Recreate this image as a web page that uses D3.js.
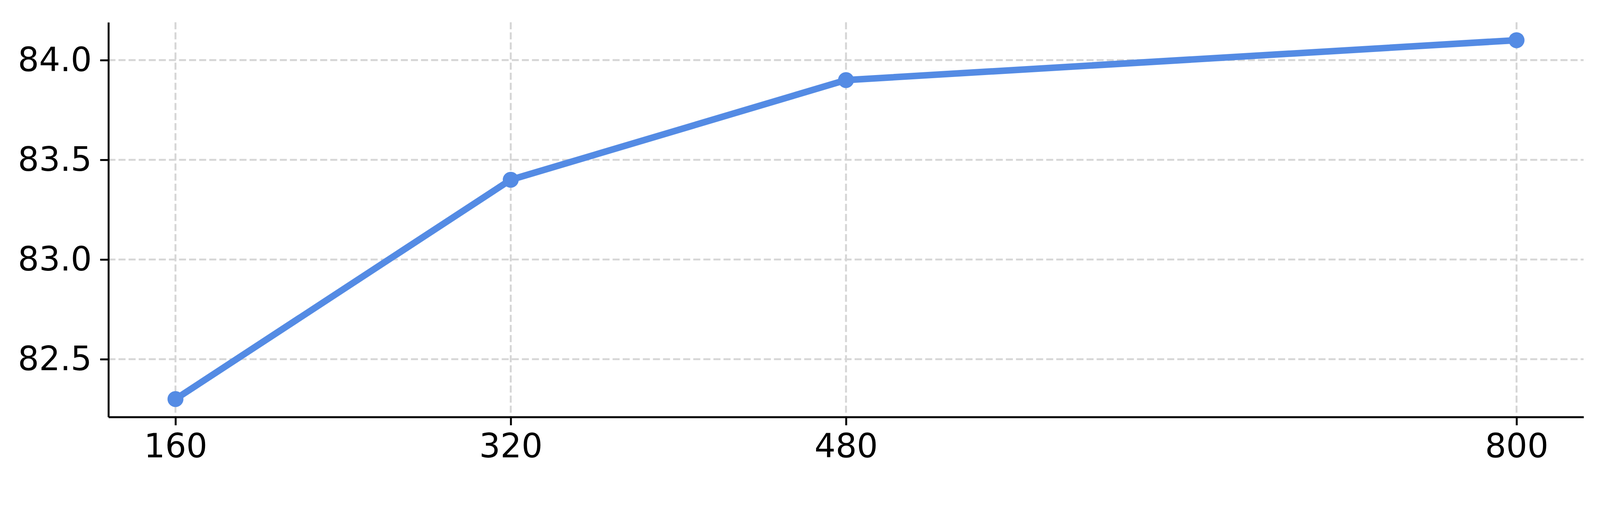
<!DOCTYPE html>
<html>
<head>
<meta charset="utf-8">
<script src="https://cdn.jsdelivr.net/npm/d3@7"></script>
<style>
  html, body { margin: 0; padding: 0; background: #fff; overflow: hidden; }
  .chart svg { display: block; }
  .axis text { font-family: "DejaVu Sans", sans-serif; fill: #000; }
</style>
</head>
<body>
<div class="chart"></div>
<script>
// values
const xValues = [160, 320, 480, 800];
const yValues = [82.3, 83.4, 83.9, 84.1];
const xTicks = [160, 320, 480, 800];
const yTicks = [82.5, 83.0, 83.5, 84.0];

// the reference is 5617x1297; fit its layout to the real window
const refW = 5617, refH = 1297;
const width = window.innerWidth || refW;
const height = window.innerHeight || refH;
const sx = width / refW;
const sy = height / refH;
const k = Math.min(sx, sy);  // used for fonts, strokes and markers

const margin = {
    top: 56.9 * sy,
    right: (refW - 5559.4) * sx,
    bottom: (refH - 1066.8) * sy,
    left: 380.6 * sx
};
const innerW = width - margin.left - margin.right;
const innerH = height - margin.top - margin.bottom;

const lineColor = "#548be4";
const gridColor = "#d6d6d6";

const svg = d3.select(".chart").append("svg")
    .attr("width", width)
    .attr("height", height)
    .append("g")
    .attr("transform", `translate(${margin.left},${margin.top})`);

// matplotlib-style 5% margins around the data
const xPad = (d3.max(xValues) - d3.min(xValues)) * 0.05;
const yPad = (d3.max(yValues) - d3.min(yValues)) * 0.05;

const xScale = d3.scaleLinear()
    .domain([d3.min(xValues) - xPad, d3.max(xValues) + xPad])
    .range([0, innerW]);

const yScale = d3.scaleLinear()
    .domain([d3.min(yValues) - yPad, d3.max(yValues) + yPad])
    .range([innerH, 0]);

const gridWidth = 6.7 * k;
const dash = `${24.7 * k},${10.7 * k}`;

// dashed grid
svg.append("g").selectAll("line")
    .data(yTicks)
    .join("line")
    .attr("x1", 0).attr("x2", innerW)
    .attr("y1", d => yScale(d)).attr("y2", d => yScale(d))
    .attr("stroke", gridColor)
    .attr("stroke-width", gridWidth)
    .attr("stroke-dasharray", dash);

svg.append("g").selectAll("line")
    .data(xTicks)
    .join("line")
    .attr("y1", 0).attr("y2", innerH)
    .attr("x1", d => xScale(d)).attr("x2", d => xScale(d))
    .attr("stroke", gridColor)
    .attr("stroke-width", gridWidth)
    .attr("stroke-dasharray", dash);

// the line and markers
const points = xValues.map((x, i) => ({x: x, y: yValues[i]}));

const line = d3.line()
    .x(d => xScale(d.x))
    .y(d => yScale(d.y));

svg.append("path")
    .datum(points)
    .attr("fill", "none")
    .attr("stroke", lineColor)
    .attr("stroke-width", 23 * k)
    .attr("stroke-linejoin", "round")
    .attr("d", line);

svg.selectAll("circle")
    .data(points)
    .join("circle")
    .attr("cx", d => xScale(d.x))
    .attr("cy", d => yScale(d.y))
    .attr("r", 28 * k)
    .attr("fill", lineColor);

// axes (left and bottom spines only)
const tick = 29 * k;

const xAxis = svg.append("g")
    .attr("class", "axis")
    .attr("transform", `translate(0,${innerH})`)
    .call(d3.axisBottom(xScale).tickValues(xTicks).tickFormat(d3.format("d"))
        .tickSize(tick).tickSizeOuter(0).tickPadding(tick));

const yAxis = svg.append("g")
    .attr("class", "axis")
    .call(d3.axisLeft(yScale).tickValues(yTicks).tickFormat(d3.format(".1f"))
        .tickSize(tick).tickSizeOuter(0).tickPadding(tick));

[xAxis, yAxis].forEach(a => {
    a.select(".domain").attr("stroke", "#000").attr("stroke-width", 6.7 * k);
    a.selectAll(".tick line").attr("stroke", "#000").attr("stroke-width", 6.7 * k);
    a.selectAll("text").style("font-size", (116.7 * k) + "px");
});
</script>
</body>
</html>
